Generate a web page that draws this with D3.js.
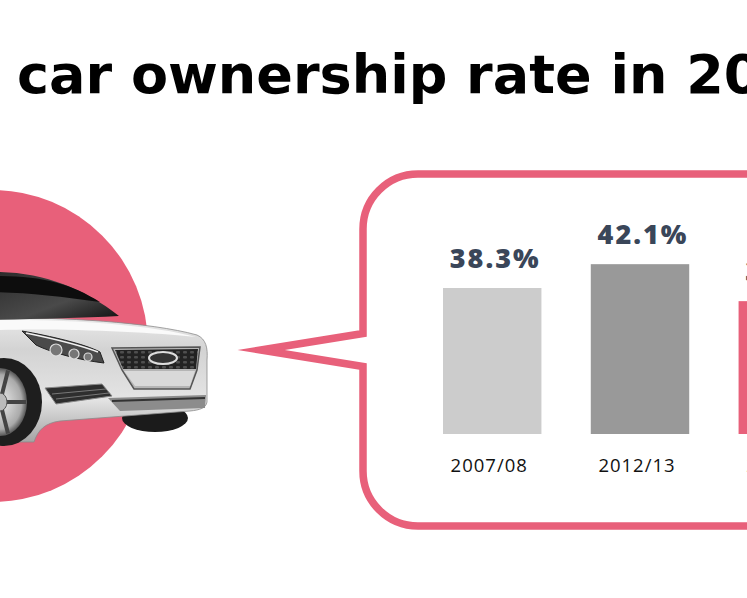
<!DOCTYPE html>
<html>
<head>
<meta charset="utf-8">
<script src="https://cdn.jsdelivr.net/npm/d3@7"></script>
<style>
  html, body { margin: 0; padding: 0; background: #fff; overflow: hidden; }
  svg { display: block; }
</style>
</head>
<body>
<div id="chart"></div>
<script>
// data
var years = ["2007/08", "2012/13", "2017/18"];
var rates = [38.3, 42.1, 36.2];
var titleText = "car ownership rate in 2017/18";

var width = 747;
var height = 598;
var pink = "#e8607a";

var svg = d3.select("#chart").append("svg")
    .attr("width", width)
    .attr("height", height);

var defs = svg.append("defs");

//silver body gradient
var silver = defs.append("linearGradient").attr("id", "silver")
    .attr("x1", 0).attr("y1", 0).attr("x2", 0).attr("y2", 1);
silver.append("stop").attr("offset", "0%").attr("stop-color", "#f4f4f4");
silver.append("stop").attr("offset", "35%").attr("stop-color", "#d3d3d3");
silver.append("stop").attr("offset", "70%").attr("stop-color", "#e4e4e4");
silver.append("stop").attr("offset", "100%").attr("stop-color", "#a4a4a4");

var glass = defs.append("linearGradient").attr("id", "glass")
    .attr("x1", 0).attr("y1", 0).attr("x2", 1).attr("y2", 1);
glass.append("stop").attr("offset", "0%").attr("stop-color", "#2a2a2a");
glass.append("stop").attr("offset", "60%").attr("stop-color", "#4a4a4a");
glass.append("stop").attr("offset", "100%").attr("stop-color", "#111");

var rim = defs.append("radialGradient").attr("id", "rim");
rim.append("stop").attr("offset", "0%").attr("stop-color", "#eee");
rim.append("stop").attr("offset", "80%").attr("stop-color", "#aaa");
rim.append("stop").attr("offset", "100%").attr("stop-color", "#555");

//grille mesh
var mesh = defs.append("pattern").attr("id", "mesh")
    .attr("width", 7).attr("height", 5)
    .attr("patternUnits", "userSpaceOnUse");
mesh.append("rect").attr("width", 7).attr("height", 5).attr("fill", "#222");
mesh.append("rect").attr("x", 1).attr("y", 1).attr("width", 4).attr("height", 2.5)
    .attr("rx", 1).attr("fill", "#4e4e4e");

// title
svg.append("text")
    .attr("x", 17)
    .attr("y", 93)
    .attr("font-family", "'DejaVu Sans', sans-serif")
    .attr("font-weight", 700)
    .attr("font-size", 54)
    .attr("fill", "#000")
    .text(titleText);

// pink circle behind the car
svg.append("circle")
    .attr("cx", -8)
    .attr("cy", 346)
    .attr("r", 156)
    .attr("fill", pink);

// the car (rough drawing of the photo)
var car = svg.append("g").attr("id", "car");

car.append("ellipse")
    .attr("cx", 155).attr("cy", 418).attr("rx", 33).attr("ry", 14)
    .attr("fill", "#1b1b1b");

car.append("path")
    .attr("d", "M-10,300 L0,318 C60,317 150,322 197,335 C206,339 208,348 207,360 " +
               "L207,402 C206,408 200,410 190,411 L60,421 C45,423 38,430 34,442 L-10,442 Z")
    .attr("fill", "url(#silver)")
    .attr("stroke", "#8a8a8a")
    .attr("stroke-width", 0.8);

//roof + windshield
car.append("path")
    .attr("d", "M-10,272 C40,271 82,287 119,316 C80,318 30,319 -10,320 Z")
    .attr("fill", "url(#glass)");
car.append("path")
    .attr("d", "M-10,276 C40,275 70,283 100,302 C60,296 20,292 -10,292 Z")
    .attr("fill", "#0d0d0d");

//hood highlight
car.append("path")
    .attr("d", "M0,320 C60,319 150,324 196,337 C150,332 60,328 0,330 Z")
    .attr("fill", "#fafafa");

//headlight
car.append("path")
    .attr("d", "M22,331 C50,336 85,344 100,352 L104,363 C80,360 52,353 36,345 Z")
    .attr("fill", "#4a4a4a")
    .attr("stroke", "#222")
    .attr("stroke-width", 1);
car.append("path")
    .attr("d", "M26,333 C50,338 80,345 98,352")
    .attr("fill", "none")
    .attr("stroke", "#f0f0f0")
    .attr("stroke-width", 1.5);
[[56, 350, 6], [74, 354, 5], [88, 357, 4]].forEach(function(c) {
  car.append("circle")
      .attr("cx", c[0]).attr("cy", c[1]).attr("r", c[2])
      .attr("fill", "#777").attr("stroke", "#ddd").attr("stroke-width", 1.2);
});

//grille
car.append("path")
    .attr("d", "M112,348 L200,347 L197,370 L190,389 L134,389 L122,370 Z")
    .attr("fill", "#b5b5b5")
    .attr("stroke", "#555")
    .attr("stroke-width", 1.5);
car.append("path")
    .attr("d", "M115,350 L198,349 L196,369 L123,369 Z")
    .attr("fill", "url(#mesh)");
car.append("path")
    .attr("d", "M124,371 L195,371 L190,386 L135,386 Z")
    .attr("fill", "#d9d9d9");
car.append("ellipse")
    .attr("cx", 163).attr("cy", 358).attr("rx", 14).attr("ry", 6)
    .attr("fill", "#333").attr("stroke", "#ddd").attr("stroke-width", 2);

//lower vent
car.append("path")
    .attr("d", "M45,388 L102,384 L112,396 L56,404 Z")
    .attr("fill", "#2e2e2e")
    .attr("stroke", "#888")
    .attr("stroke-width", 1);
car.append("path")
    .attr("d", "M52,394 L106,389 M56,399 L109,393")
    .attr("stroke", "#777")
    .attr("stroke-width", 1);

//lower lip
car.append("path")
    .attr("d", "M108,398 L206,395 L205,408 L120,411 Z")
    .attr("fill", "#8c8c8c");
car.append("path")
    .attr("d", "M112,401 L205,398")
    .attr("stroke", "#333")
    .attr("stroke-width", 2);

//front wheel
car.append("ellipse")
    .attr("cx", 4).attr("cy", 402).attr("rx", 38).attr("ry", 44)
    .attr("fill", "#1e1e1e");
car.append("ellipse")
    .attr("cx", 0).attr("cy", 402).attr("rx", 27).attr("ry", 34)
    .attr("fill", "url(#rim)");
d3.range(5).forEach(function(i) {
  var a = i * 72 * Math.PI / 180;
  car.append("line")
      .attr("x1", 0).attr("y1", 402)
      .attr("x2", 26 * Math.cos(a)).attr("y2", 402 + 33 * Math.sin(a))
      .attr("stroke", "#444").attr("stroke-width", 4);
});
car.append("ellipse")
    .attr("cx", 0).attr("cy", 402).attr("rx", 7).attr("ry", 9)
    .attr("fill", "#bbb").attr("stroke", "#555");

// speech bubble around the bars
var bx = 363, by = 174, bb = 526, br = 900, rad = 55;
var tipX = 261, tipY = 350, half = 16.5;
var p = d3.path();
p.moveTo(bx + rad, by);
p.lineTo(br, by);
p.lineTo(br, bb);
p.lineTo(bx + rad, bb);
p.arcTo(bx, bb, bx, bb - rad, rad);
p.lineTo(bx, tipY + half);
p.lineTo(tipX, tipY);
p.lineTo(bx, tipY - half);
p.lineTo(bx, by + rad);
p.arcTo(bx, by, bx + rad, by, rad);
p.closePath();

svg.append("path")
    .attr("d", p.toString())
    .attr("fill", "none")
    .attr("stroke", pink)
    .attr("stroke-width", 7.5)
    .attr("stroke-miterlimit", 10)
    .attr("stroke-linejoin", "miter");

// bars
var x = d3.scaleBand()
    .domain(years)
    .range([443, 837])
    .paddingInner(0.334)
    .paddingOuter(0);

var y = d3.scaleLinear()
    .domain([15, 45])
    .range([434, 246]);

var color = d3.scaleOrdinal()
    .domain(years)
    .range(["#cccccc", "#999999", pink]);

var data = years.map(function(d, i) { return {year: d, rate: rates[i]}; });

var bars = svg.append("g").attr("class", "bars");

bars.selectAll("rect")
    .data(data)
  .enter().append("rect")
    .attr("x", function(d) { return x(d.year); })
    .attr("y", function(d) { return y(d.rate); })
    .attr("width", x.bandwidth())
    .attr("height", function(d) { return y(15) - y(d.rate); })
    .attr("fill", function(d) { return color(d.year); });

bars.selectAll("text.value")
    .data(data)
  .enter().append("text")
    .attr("class", "value")
    .attr("x", function(d) { return x(d.year) + x.bandwidth() / 2 + 3; })
    .attr("y", function(d) { return y(d.rate) - 20; })
    .attr("text-anchor", "middle")
    .attr("font-family", "'Open Sans', sans-serif")
    .attr("font-weight", 800)
    .attr("font-size", 27)
    .attr("letter-spacing", 2)
    .attr("fill", "#3a4659")
    .text(function(d) { return d.rate.toFixed(1) + "%"; });

// category axis, no line or ticks
var axis = svg.append("g")
    .attr("transform", "translate(0,434)")
    .call(d3.axisBottom(x).tickSize(0).tickPadding(25));
axis.select(".domain").remove();
axis.selectAll("text")
    .attr("font-family", "'Open Sans', sans-serif")
    .attr("font-size", 18.5)
    .attr("letter-spacing", 1)
    .attr("fill", "#111")
    .attr("dx", -3);
</script>
</body>
</html>
